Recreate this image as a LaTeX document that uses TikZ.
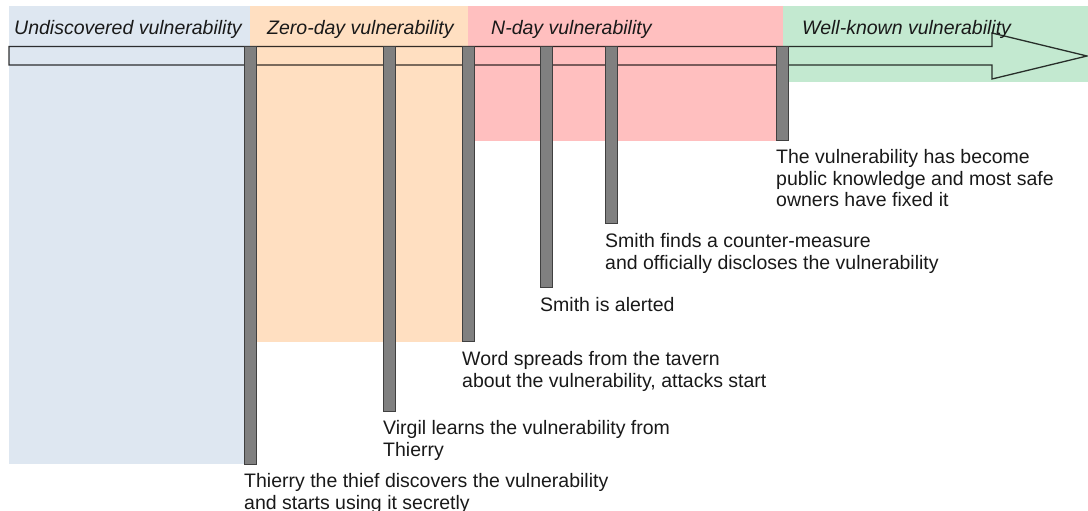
\documentclass[tikz,border=0pt]{standalone}
\usepackage{fontspec}
\setmainfont{Liberation Sans}
\definecolor{bgblue}{HTML}{DEE7F1}
\definecolor{bgorange}{HTML}{FFDFC1}
\definecolor{bgred}{HTML}{FFBFBF}
\definecolor{bggreen}{HTML}{C3E9D0}
\definecolor{bargray}{HTML}{808080}
\begin{document}
\begin{tikzpicture}[x=1pt,y=-1pt,
  txt/.style={font=\fontsize{19.5}{21.7}\selectfont, inner sep=0pt, text=black!90},
  phase/.style={txt, font=\fontsize{19.5}{21.7}\selectfont\itshape, anchor=base west},
  lbl/.style={txt, align=left, anchor=north west},
  bar/.style={draw=black!75, line width=1pt, fill=bargray, inner sep=0pt, minimum width=12pt, anchor=north west},
  arrowline/.style={draw=black, draw opacity=0.8, line width=1.3pt, line join=miter}]
\useasboundingbox (0,0) rectangle (1088,511);
% phase backgrounds
\fill[bgblue] (9,6) rectangle (250,464);
\fill[bgorange] (250,6) rectangle (468,342);
\fill[bgred] (468,6) rectangle (783,141);
\fill[bggreen] (783,6) rectangle (1088,82);
% timeline arrow
\draw[arrowline] (9,46.5) -- (992,46.5) -- (992,33) -- (1087,56) -- (992,79) -- (992,65) -- (9,65) -- cycle;
% bars
\node[bar, minimum height=418pt] (b1) at (244,46) {};
\node[bar, minimum height=365pt] (b2) at (383,46) {};
\node[bar, minimum height=295pt] (b3) at (462,46) {};
\node[bar, minimum height=241pt] (b4) at (540,46) {};
\node[bar, minimum height=177pt] (b5) at (605,46) {};
\node[bar, minimum height=94pt]  (b6) at (776,46) {};
% phase titles
\node[phase] (p1) at (14,35) {Undiscovered vulnerability};
\node[phase] (p2) at (267,35) {Zero-day vulnerability};
\node[phase] (p3) at (491,35) {N-day vulnerability};
\node[phase] (p4) at (802,35) {Well-known vulnerability};
% event labels
\node[lbl] (t1) at ([yshift=-8pt]b1.south west) {Thierry the thief discovers the vulnerability\\and starts using it secretly};
\node[lbl] (t2) at ([yshift=-8pt]b2.south west) {Virgil learns the vulnerability from\\Thierry};
\node[lbl] (t3) at ([yshift=-9pt]b3.south west) {Word spreads from the tavern\\about the vulnerability, attacks start};
\node[lbl] (t4) at ([yshift=-9pt]b4.south west) {Smith is alerted};
\node[lbl] (t5) at ([yshift=-9pt]b5.south west) {Smith finds a counter-measure\\and officially discloses the vulnerability};
\node[lbl] (t6) at ([yshift=-8pt]b6.south west) {The vulnerability has become\\public knowledge and most safe\\owners have fixed it};
\end{tikzpicture}
\end{document}
